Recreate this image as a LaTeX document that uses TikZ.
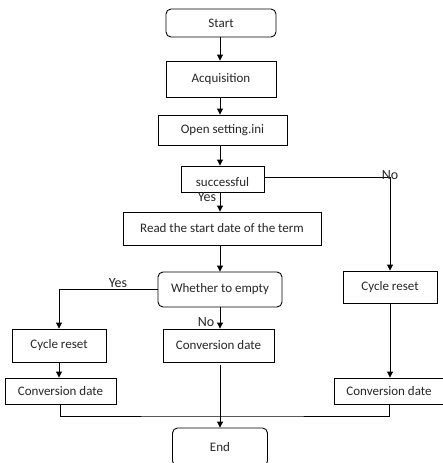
\documentclass[tikz,border=0pt]{standalone}
\usepackage{fontspec}
\setmainfont{Carlito}
\usetikzlibrary{arrows.meta}
\begin{document}
\begin{tikzpicture}[x=1pt,y=-1pt,
  box/.style={draw=black,line width=0.9pt,font=\fontsize{13}{15}\selectfont,inner sep=0pt,text=black!85},
  rbox/.style={box,rounded corners=5pt},
  arr/.style={line width=0.9pt,-{Triangle[length=6pt,width=6pt]}},
  lnk/.style={line width=0.9pt},
  lbl/.style={font=\fontsize{14}{16}\selectfont,inner sep=0pt,text=black!85}]
\useasboundingbox (0,0) rectangle (443,463);
\clip (0,0) rectangle (443,463);
\node[rbox,minimum width=110,minimum height=28] (start) at (221,23) {Start};
\node[box,minimum width=110,minimum height=36] (acq) at (221,79) {Acquisition};
\node[box,minimum width=129,minimum height=30] (open) at (222.5,130) {Open setting.ini};
\node[box,minimum width=83,minimum height=26,text height=15pt,text depth=0pt] (succ) at (222.5,179) {successful};
\node[box,minimum width=198,minimum height=33] (read) at (222,228.5) {Read the start date of the term};
\node[rbox,minimum width=124,minimum height=35] (empty) at (220,289.5) {Whether to empty};
\node[box,minimum width=94,minimum height=32] (crR) at (390,287) {Cycle reset};
\node[box,minimum width=94,minimum height=33] (crL) at (59,345.5) {Cycle reset};
\node[box,minimum width=111,minimum height=33] (cdM) at (218.5,345.5) {Conversion date};
\node[box,minimum width=111,minimum height=26] (cdL) at (60.5,391) {Conversion date};
\node[box,minimum width=110,minimum height=26] (cdR) at (389,391) {Conversion date};
\node[rbox,minimum width=95,minimum height=38] (end) at (220,447) {End};
\coordinate (mx) at (220,0);
\coordinate (jn) at (220,416);
\draw[arr] (start.south -| mx) -- (acq.north -| mx);
\draw[arr] (acq.south -| mx) -- (open.north -| mx);
\draw[arr] (open.south -| mx) -- (succ.north -| mx);
\draw[arr] (succ.south -| mx) -- (read.north -| mx);
\draw[arr] (read.south -| mx) -- (empty.north -| mx);
\draw[arr] (empty.south -| mx) -- (cdM.north -| mx);
\draw[arr] ([yshift=2pt]succ.east) -| (crR.north);
\draw[arr] (empty.west) -| (crL.north);
\draw[arr] (crL.south) -- (crL.south |- cdL.north);
\draw[arr] (crR.south) -- (crR.south |- cdR.north);
\draw[arr,shorten <=3pt] (cdM.south -| mx) -- (end.north -| mx);
\draw[lnk] (cdL.south) |- (jn) -| (cdR.south);
\node[lbl] (no1) at (390,175) {No};
\node[lbl] (yes1) at (207,197) {Yes};
\node[lbl,fill=white,inner xsep=1pt] (yes2) at (118,283) {Yes};
\node[lbl] (no2) at (206,322) {No};
\end{tikzpicture}
\end{document}
